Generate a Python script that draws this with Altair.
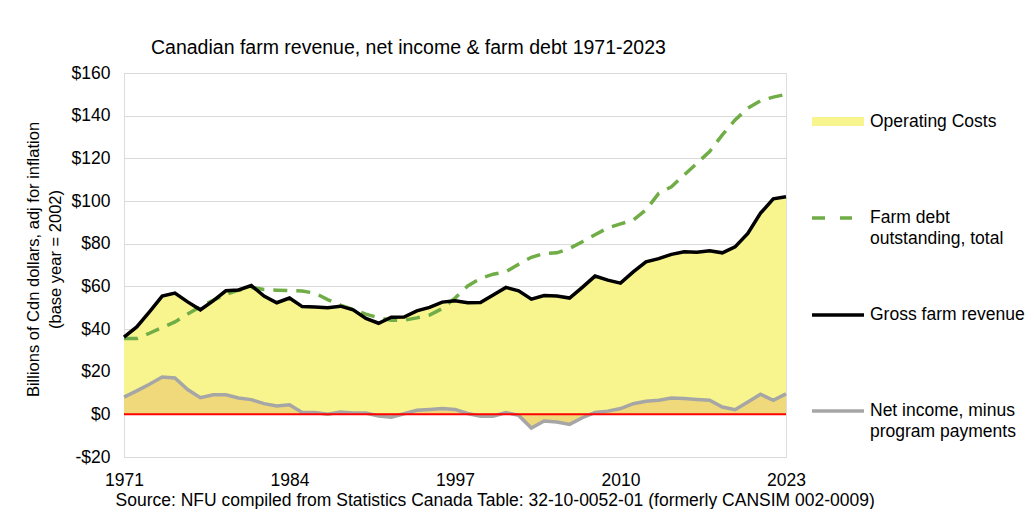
import altair as alt
import pandas as pd

# ---------------- data ----------------
years = list(range(1971, 2024))

gross_revenue = [36.2, 41.0, 48.0, 55.4, 56.8, 52.7, 49.0, 53.2, 57.9, 58.3,
                 60.4, 55.4, 52.3, 54.5, 50.5, 50.3, 50.0, 50.7, 49.0, 45.0,
                 42.7, 45.5, 45.6, 48.5, 50.1, 52.6, 53.2, 52.3, 52.4, 55.9,
                 59.5, 57.9, 54.0, 55.7, 55.5, 54.5, 59.5, 64.8, 62.9, 61.5,
                 66.8, 71.5, 73.0, 75.0, 76.2, 76.0, 76.7, 75.7, 78.5, 84.8,
                 94.3, 101.0, 102.0]

farm_debt = [35.5, 35.5, 38.0, 40.7, 43.3, 47.0, 50.4, 53.5, 56.2, 58.2,
             59.5, 58.5, 58.2, 58.0, 57.8, 56.8, 53.8, 51.2, 49.1, 47.0,
             45.2, 44.1, 44.1, 45.2, 46.5, 49.6, 54.5, 60.2, 63.7, 65.7,
             66.8, 70.4, 73.6, 75.4, 75.7, 77.8, 80.9, 84.2, 87.4, 89.3,
             91.0, 95.8, 103.6, 106.7, 112.2, 117.7, 123.2, 131.0, 138.0, 143.5,
             147.0, 148.7, 150.0]

net_income = [8.1, 11.0, 14.1, 17.5, 17.0, 11.6, 7.8, 9.2, 9.2, 7.7,
              6.9, 5.0, 3.9, 4.5, 0.9, 0.9, 0.0, 1.1, 0.6, 0.6,
              -0.8, -1.3, 0.3, 1.9, 2.3, 2.7, 2.3, 0.4, -0.9, -0.9,
              0.8, -0.5, -6.4, -3.1, -3.6, -4.7, -1.6, 0.9, 1.5, 2.7,
              5.0, 6.1, 6.6, 7.7, 7.4, 7.0, 6.6, 3.4, 2.2, 5.8,
              9.4, 6.6, 9.6]

x_ticks = [1971, 1984, 1997, 2010, 2023]
y_ticks = [-20, 0, 20, 40, 60, 80, 100, 120, 140, 160]

title_text = "Canadian farm revenue, net income & farm debt 1971-2023"
y_title = ["Billions of Cdn dollars, adj for inflation", "(base year = 2002)"]
source_text = ("Source: NFU compiled from Statistics Canada Table: "
               "32-10-0052-01 (formerly CANSIM 002-0009)")
legend_ops = "Operating Costs"
legend_debt = ["Farm debt", "outstanding, total"]
legend_gross = "Gross farm revenue"
legend_net = ["Net income, minus", "program payments"]

# ---------------- styling ----------------
FONT = "Liberation Sans"
YELLOW = "#f8f58e"
TAN = "#efd97a"
GREEN = "#70ad47"
GREY = "#a6a6a6"
RED = "#ff0000"

df = pd.DataFrame({"year": years, "gross": gross_revenue,
                   "debt": farm_debt, "net": net_income})
one = pd.DataFrame({"k": [0]})

x_axis = alt.Axis(values=x_ticks, format="d", grid=False, ticks=False,
                  domain=False, labelFontSize=17.5, labelPadding=14,
                  labelFlush=False, labelOverlap=False,
                  labelColor="black", labelFont=FONT,
                  title=source_text, titleFont=FONT, titleFontSize=17.5,
                  titleFontWeight="normal", titleColor="black",
                  titleX=-9, titleY=48, titleAlign="left",
                  titleBaseline="alphabetic")
y_axis = alt.Axis(values=y_ticks,
                  labelExpr="datum.value < 0 ? '-$' + abs(datum.value) : '$' + datum.value",
                  gridColor="#d9d9d9", gridWidth=1.2, domain=False, ticks=False,
                  labelPadding=14, labelFontSize=17.5, labelColor="black",
                  labelFont=FONT,
                  title=y_title, titleFont=FONT, titleFontSize=16.5,
                  titleFontWeight="normal", titleColor="black",
                  titleAngle=-90, titleX=-99, titleY=186, titleAlign="center",
                  titleBaseline="top", titleLineHeight=22)

xs = alt.Scale(domain=[1971, 2023], nice=False, zero=False)
ys = alt.Scale(domain=[-20, 160], nice=False)


def X():
    return alt.X("year:Q", scale=xs, axis=x_axis)


def Y(field):
    return alt.Y(f"{field}:Q", scale=ys, axis=y_axis)


base = alt.Chart(df)

ops_area = base.mark_area(color=YELLOW, opacity=1).encode(
    x=X(), y=Y("gross"), y2="net")
net_area = base.mark_area(color=TAN, opacity=1).encode(
    x=X(), y=Y("net"), y2=alt.datum(0))
net_line = base.mark_line(color=GREY, strokeWidth=3.5).encode(x=X(), y=Y("net"))
zero_rule = alt.Chart(one).mark_rule(color=RED, strokeWidth=2).encode(
    y=alt.datum(0))
debt_line = base.mark_line(color=GREEN, strokeWidth=3.5,
                           strokeDash=[14, 9]).encode(x=X(), y=Y("debt"))
gross_line = base.mark_line(color="black", strokeWidth=3.5).encode(
    x=X(), y=Y("gross"))

# ---------------- title + legend (text marks) ----------------
lc = alt.Chart(one)
title_mark = lc.mark_text(align="left", baseline="alphabetic", font=FONT,
                          fontSize=19.5, color="black").encode(
    x=alt.value(27), y=alt.value(-19), text=alt.value(title_text))

sw_x, sw_x2, tx = 688, 740, 746
leg = [
    lc.mark_rect(color=YELLOW).encode(x=alt.value(sw_x), x2=alt.value(sw_x2),
                                      y=alt.value(44), y2=alt.value(53)),
    lc.mark_rule(color=GREEN, strokeWidth=3.5, strokeDash=[13, 15]).encode(
        x=alt.value(sw_x), x2=alt.value(sw_x2 - 12), y=alt.value(145)),
    lc.mark_rule(color="black", strokeWidth=3.5).encode(
        x=alt.value(sw_x), x2=alt.value(sw_x2), y=alt.value(242)),
    lc.mark_rule(color=GREY, strokeWidth=3.5).encode(
        x=alt.value(sw_x), x2=alt.value(sw_x2), y=alt.value(338)),
]
texts = [(legend_ops, 49), (legend_debt[0], 145), (legend_debt[1], 166),
         (legend_gross, 242), (legend_net[0], 338), (legend_net[1], 359)]
for t, yy in texts:
    leg.append(lc.mark_text(align="left", baseline="middle", font=FONT,
                            fontSize=17.5, color="black").encode(
        x=alt.value(tx), y=alt.value(yy), text=alt.value(t)))

chart = alt.layer(ops_area, net_area, net_line, zero_rule, debt_line,
                  gross_line, title_mark, *leg).properties(
    width=662, height=384,
    autosize=alt.AutoSizeParams(type="none"),
    padding={"left": 116, "top": 65, "right": 240, "bottom": 52},
).configure_view(stroke="#d9d9d9", strokeWidth=1.2).configure(font=FONT)

chart.save("out.html", embed_options={"renderer": "svg", "actions": False})
